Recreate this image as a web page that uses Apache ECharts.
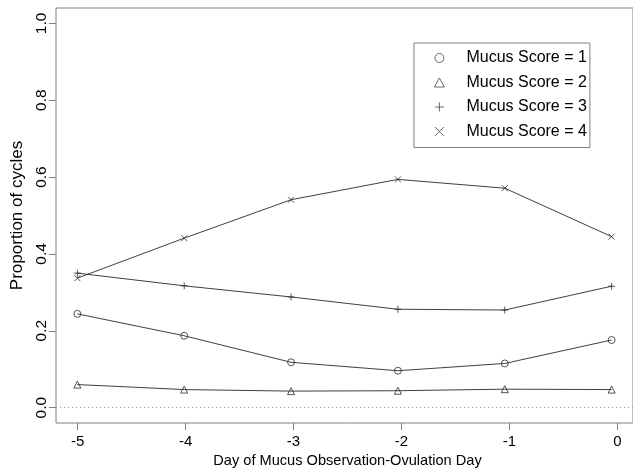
<!DOCTYPE html>
<html>
<head>
<meta charset="utf-8">
<script src="https://cdn.jsdelivr.net/npm/echarts@6/dist/echarts.min.js"></script>
<style>
html,body{margin:0;padding:0;background:#fff;}
#chart{width:633px;height:476px;}
</style>
</head>
<body>
<div id="chart"></div>
<script>
var days = [-5, -4, -3, -2, -1, 0];
var score1 = [0.244, 0.187, 0.118, 0.096, 0.115, 0.176];
var score2 = [0.060, 0.047, 0.043, 0.044, 0.048, 0.047];
var score3 = [0.350, 0.317, 0.288, 0.256, 0.254, 0.316];
var score4 = [0.337, 0.441, 0.541, 0.594, 0.571, 0.445];
var seriesNames = ['Mucus Score = 1', 'Mucus Score = 2', 'Mucus Score = 3', 'Mucus Score = 4'];
var xTitle = 'Day of Mucus Observation-Ovulation Day';
var yTitle = 'Proportion of cycles';

var FONT = 'Liberation Sans, Arial, Helvetica, sans-serif';
var PLUS = 'path://M5,0 L5,10 M0,5 L10,5';
var CROSS = 'path://M0,0 L10,10 M10,0 L0,10';
var symbols = ['circle', 'triangle', PLUS, CROSS];
var hollow = [true, true, false, false];
var sizes = [7, 7, 7, 6];
var allData = [score1, score2, score3, score4];
var INK = '#2a2a2a';
var LEG = '#444';
var FRAME = '#808080';
var CLEAR = 'rgba(0,0,0,0)';

// plot frame: data range extended 4% each side (like R)
var L = 56, T = 8, W = 583, H = 415;
var xMin = -5.2, xMax = 0.2, yMin = -0.04, yMax = 1.04;
function px(x) { return L + W * (x - xMin) / (xMax - xMin); }
function py(y) { return T + H * (yMax - y) / (yMax - yMin); }

function pairs(vals) { return days.map(function (d, i) { return [d, vals[i]]; }); }

var series = allData.map(function (vals, k) {
  var s = {
    name: seriesNames[k],
    type: 'line',
    xAxisIndex: 0, yAxisIndex: 0,
    data: pairs(vals),
    symbol: symbols[k],
    symbolSize: sizes[k],
    showAllSymbol: true,
    lineStyle: { color: INK, width: 0.9 },
    itemStyle: { color: hollow[k] ? CLEAR : INK, borderColor: INK, borderWidth: 0.8 },
    emphasis: { disabled: true },
    z: 3
  };
  if (k === 0) {
    s.markLine = {
      silent: true,
      symbol: ['none', 'none'],
      label: { show: false },
      lineStyle: { color: '#999', type: [1, 3], width: 1 },
      data: [{ yAxis: 0 }],
      animation: false
    };
  }
  return s;
});

var chart = echarts.init(document.getElementById('chart'), null, { renderer: 'canvas' });
chart.setOption({
  animation: false,
  backgroundColor: '#fff',
  textStyle: { fontFamily: FONT },
  grid: [
    { left: L, top: T, width: W, height: H, show: true, borderColor: FRAME, borderWidth: 1, backgroundColor: 'transparent' },
    { left: L, top: py(1), width: W, height: py(0) - py(1), show: false },
    { left: px(-5), top: T, width: px(0) - px(-5), height: H, show: false }
  ],
  legend: {
    orient: 'vertical',
    left: 414, top: 43,
    padding: [7, 3, 8, 20],
    itemWidth: 10, itemHeight: 9,
    itemGap: 8.5,
    borderColor: FRAME, borderWidth: 1,
    selectedMode: false,
    textStyle: { fontSize: 16, color: '#000', fontFamily: FONT, padding: [0, 0, 0, 17] },
    data: seriesNames.map(function (n, k) {
      return { name: n, icon: symbols[k],
        itemStyle: { color: hollow[k] ? CLEAR : LEG, borderColor: LEG, borderWidth: 0.8 } };
    })
  },
  xAxis: [
    { type: 'value', gridIndex: 0, min: xMin, max: xMax, show: false },
    { type: 'value', gridIndex: 1, min: 0, max: 1, show: false },
    {
      type: 'value', gridIndex: 2, min: -5, max: 0, interval: 1,
      axisLine: { show: false },
      splitLine: { show: false },
      axisTick: { show: true, length: 7, lineStyle: { color: FRAME } },
      axisLabel: { fontSize: 15, color: '#000', margin: 11, fontFamily: FONT },
      name: xTitle, nameLocation: 'middle', nameGap: 22,
      nameTextStyle: { fontSize: 14.6, color: '#000', fontFamily: FONT }
    }
  ],
  yAxis: [
    { type: 'value', gridIndex: 0, min: yMin, max: yMax, show: false },
    {
      type: 'value', gridIndex: 1, min: 0, max: 1, interval: 0.2,
      axisLine: { show: false },
      splitLine: { show: false },
      axisTick: { show: true, length: 7, lineStyle: { color: FRAME } },
      axisLabel: { rotate: 90, fontSize: 15.5, color: '#000', margin: 6, fontFamily: FONT,
        formatter: function (v) { return v.toFixed(1); } },
      name: yTitle, nameLocation: 'middle', nameGap: 28, nameRotate: 90,
      nameTextStyle: { fontSize: 17, color: '#000', fontFamily: FONT }
    },
    { type: 'value', gridIndex: 2, min: 0, max: 1, show: false }
  ],
  series: series
});
</script>
</body>
</html>
